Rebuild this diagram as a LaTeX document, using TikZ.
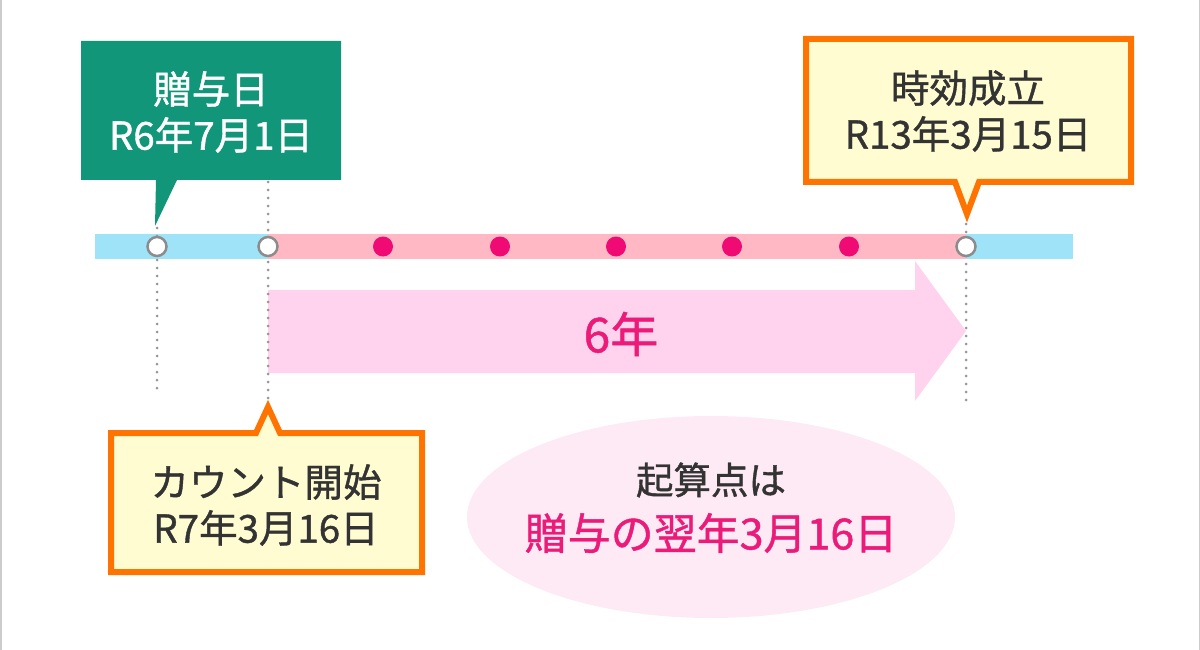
\documentclass[tikz,border=0pt]{standalone}
\usepackage{fontspec}
\setmainfont{Noto Sans CJK JP}[FakeBold=1]
\usetikzlibrary{calc}

\definecolor{framegray}{RGB}{204,204,204}
\definecolor{giftgreen}{RGB}{17,150,122}
\definecolor{noteorange}{RGB}{255,115,0}
\definecolor{noteyellow}{RGB}{255,252,210}
\definecolor{barblue}{RGB}{158,227,248}
\definecolor{barpink}{RGB}{255,184,196}
\definecolor{dotpink}{RGB}{240,10,115}
\definecolor{arrowpink}{RGB}{255,211,238}
\definecolor{ovalpink}{RGB}{253,234,244}
\definecolor{textgray}{RGB}{51,51,51}
\definecolor{textmagenta}{RGB}{236,26,120}
\definecolor{tickgray}{RGB}{140,140,140}
\definecolor{dotgray}{RGB}{150,150,150}

\tikzset{
  labeltext/.style={align=center, inner sep=0pt, text=textgray, font=\fontsize{38.5}{46}\selectfont},
  guideline/.style={draw=dotgray, line width=3pt, line cap=round, dash pattern=on 0pt off 8pt},
  opentick/.style={circle, draw=tickgray, line width=2.5pt, fill=white, minimum size=19pt, inner sep=0pt},
  yeardot/.style={circle, fill=dotpink, minimum size=20pt, inner sep=0pt},
  noteframe/.style={draw=noteorange, line width=6pt, fill=noteyellow, line join=miter},
}

\begin{document}
\begin{tikzpicture}[x=1pt,y=1pt,yscale=-1,xscale=1]
\useasboundingbox (0,0) rectangle (1200,650);

%Frame: side lines
\draw [framegray, line width=1.5pt] (0.75,0) -- (0.75,650);
\draw [framegray, line width=1.5pt] (1199.25,0) -- (1199.25,650);

%Points on the time line
\coordinate (gift) at (157,246.5);
\coordinate (start) at (268,246.5);
\coordinate (lapse) at (966,246.5);

%Shape: Arrow [6 years]
\fill [arrowpink] (268,290) -- (915,290) -- (915,261) -- (966,331) -- (915,401) -- (915,373) -- (268,373) -- cycle ;

%Shape: Bar
\fill [barblue] (95,234) rectangle (1073,259);
\fill [barpink] (start |- 0,234) rectangle (lapse |- 0,259);

%Dotted guide lines
\draw [guideline] (gift |- 0,228) -- (gift |- 0,390);
\draw [guideline] (start |- 0,182) -- (start |- 0,398);
\draw [guideline] (lapse |- 0,224) -- (lapse |- 0,402);

%Marks on the bar
\node [opentick] (giftmark) at (gift) {};
\node [opentick] (startmark) at (start) {};
\node [opentick] (lapsemark) at (lapse) {};
\foreach \x [count=\i] in {383,500,616,732,849}
  \node [yeardot] (year\i) at (\x,246.5) {};

%Shape: Callout [gift day]
\fill [giftgreen] (81,41) -- (341,41) -- (341,180) -- (177,180) -- (155,226) -- (156,180) -- (81,180) -- cycle ;
%Shape: Callout [lapse]
\draw [noteframe] (806,39) -- (1131,39) -- (1131,182) -- (979,182) -- (967,214) -- (955,182) -- (806,182) -- cycle ;
%Shape: Callout [count start]
\draw [noteframe] (111,433) -- (256,433) -- (268,407) -- (280,433) -- (422,433) -- (422,572) -- (111,572) -- cycle ;

%Shape: Ellipse
\fill [ovalpink] (711,517) ellipse [x radius=244, y radius=101];

% Text Node
\node [labeltext, text=white] (giftlabel) at (211,112) {贈与日\\R6年7月1日};
% Text Node
\node [labeltext] (lapselabel) at (968,111) {時効成立\\R13年3月15日};
% Text Node
\node [labeltext] (startlabel) at (266,505) {カウント開始\\R7年3月16日};
% Text Node
\node [text=textmagenta, font=\fontsize{48}{52}\selectfont] (span) at (621,334) {6年};
% Text Node
\node [text=textgray, font=\fontsize{37.5}{44}\selectfont] (basis) at (711,480) {起算点は};
% Text Node
\node [text=textmagenta, font=\fontsize{43}{48}\selectfont] (basisdate) at (711,533) {贈与の翌年3月16日};

\end{tikzpicture}
\end{document}
